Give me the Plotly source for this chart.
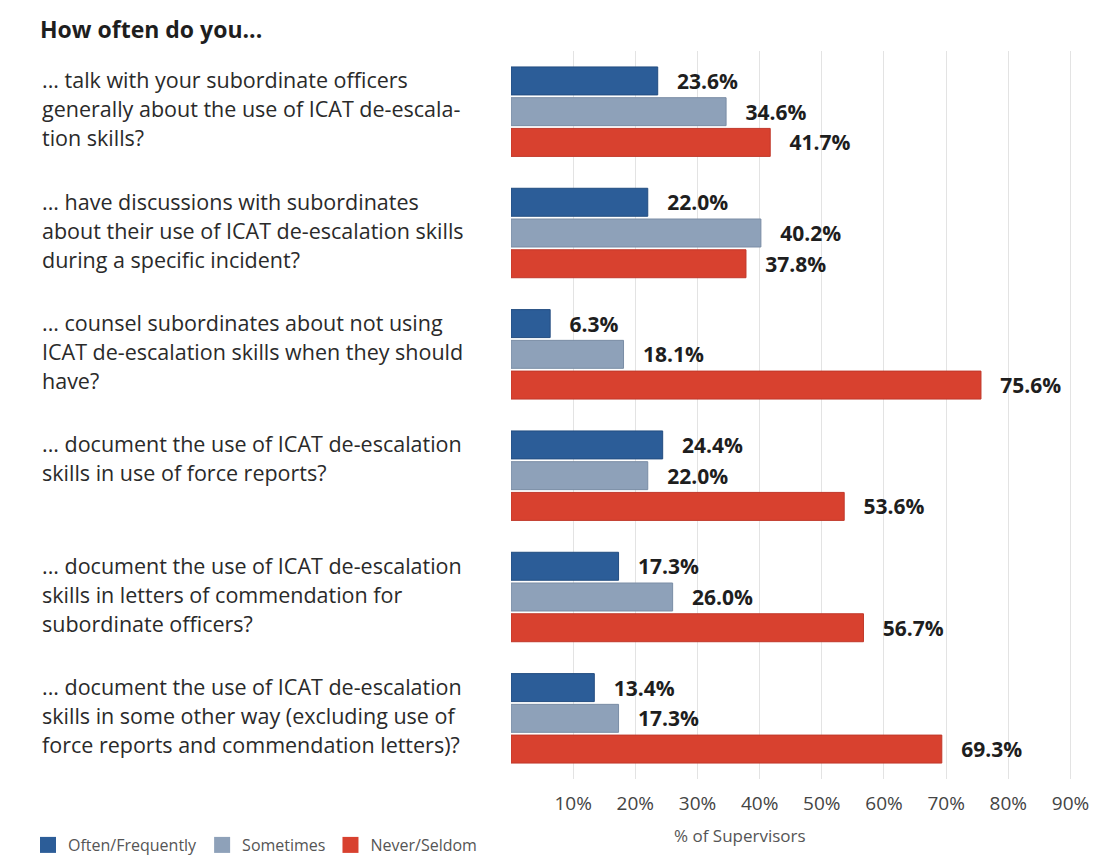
import plotly.graph_objects as go

categories = [
    "... talk with your subordinate officers<br>generally about the use of ICAT de-escala-<br>tion skills?",
    "... have discussions with subordinates<br>about their use of ICAT de-escalation skills<br>during a specific incident?",
    "... counsel subordinates about not using<br>ICAT de-escalation skills when they should<br>have?",
    "... document the use of ICAT de-escalation<br>skills in use of force reports?",
    "... document the use of ICAT de-escalation<br>skills in letters of commendation for<br>subordinate officers?",
    "... document the use of ICAT de-escalation<br>skills in some other way (excluding use of<br>force reports and commendation letters)?",
]
series_names = ["Often/Frequently", "Sometimes", "Never/Seldom"]
often = [23.6, 22.0, 6.3, 24.4, 17.3, 13.4]
sometimes = [34.6, 40.2, 18.1, 22.0, 26.0, 17.3]
never = [41.7, 37.8, 75.6, 53.6, 56.7, 69.3]
tick_vals = [10, 20, 30, 40, 50, 60, 70, 80, 90]
tick_text = ["10%", "20%", "30%", "40%", "50%", "60%", "70%", "80%", "90%"]

colors = ["#2c5d98", "#8ea1b9", "#d8412f"]
line_colors = ["#234d80", "#7a8da5", "#c0382a"]
FONT = "Open Sans"

W, H = 1112, 853
L, R, T, B = 503, 6, 43, 82
plot_w = W - L - R
plot_h = H - T - B

fig = go.Figure()
for name, vals, c, lc in zip(series_names, [often, sometimes, never], colors, line_colors):
    fig.add_trace(go.Bar(
        y=categories, x=vals, orientation="h", name=name,
        marker=dict(color=c, line=dict(color=lc, width=1)),
        texttemplate="\u00a0\u00a0\u00a0%{x:.1f}%", textposition="outside",
        outsidetextfont=dict(family=FONT, size=21, color="#1e1e1e", weight="bold"),
        constraintext="none", cliponaxis=False, showlegend=False,
    ))
    fig.add_trace(go.Scatter(
        x=[None], y=[None], mode="markers", name=name,
        marker=dict(symbol="square", size=22, color=c),
        showlegend=True,
    ))

annotations = []
for cat in categories:
    for i, line in enumerate(cat.split("<br>")):
        annotations.append(dict(
            x=(32 - L) / plot_w, xref="paper", y=cat, yref="y",
            text=line, showarrow=False, xanchor="left", yanchor="middle",
            yshift=32 - 29 * i, align="left",
            font=dict(family=FONT, size=21.5, color="#2a2a2a"),
        ))

annotations.append(dict(
    x=(732 - L) / plot_w, xref="paper", y=-56 / plot_h, yref="paper",
    text="% of Supervisors", showarrow=False, xanchor="center", yanchor="middle",
    font=dict(family=FONT, size=17, color="#555555"),
))

fig.update_layout(
    width=W, height=H,
    margin=dict(l=L, r=R, t=T, b=B),
    paper_bgcolor="white", plot_bgcolor="white",
    barmode="group", bargap=0.24, bargroupgap=0.09,
    title=dict(text="<b>How often do you...</b>", x=32 / W, xanchor="left",
               y=1 - 22 / H, yanchor="middle", xref="container", yref="container",
               font=dict(family=FONT, size=23, color="#1e1e1e")),
    xaxis=dict(range=[0, 97], tickvals=tick_vals, ticktext=tick_text,
               showgrid=True, gridcolor="#e3e3e3", gridwidth=1, zeroline=False,
               showline=False, ticks="", ticklabelstandoff=11,
               tickfont=dict(family=FONT, size=19, color="#444444")),
    yaxis=dict(autorange="reversed", showticklabels=False, showgrid=False,
               zeroline=False, showline=False, ticks=""),
    legend=dict(orientation="h", x=20 / W, xanchor="left", xref="container",
                y=(H - 837) / H, yanchor="middle", yref="container",
                font=dict(family=FONT, size=16, color="#555555"),
                itemsizing="trace"),
    annotations=annotations,
    font=dict(family=FONT),
)

fig.write_html("out.html")
